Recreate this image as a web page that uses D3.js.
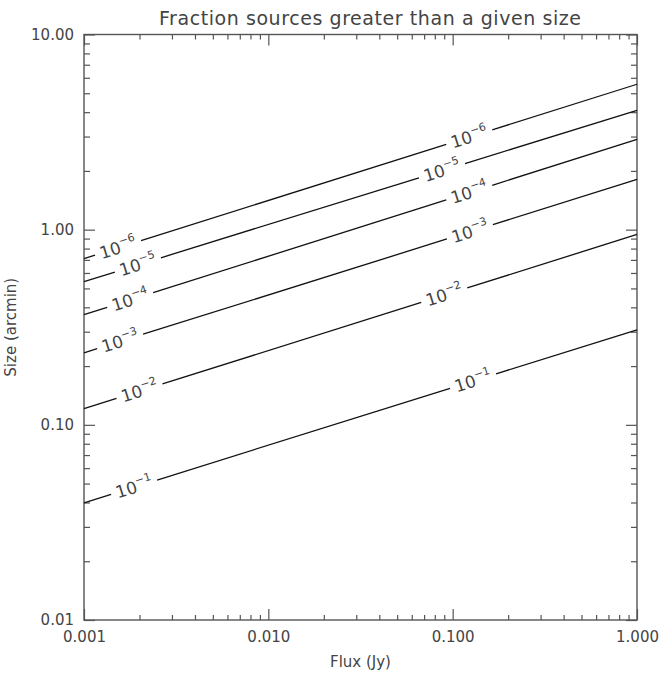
<!DOCTYPE html>
<html>
<head>
<meta charset="utf-8">
<script src="https://cdn.jsdelivr.net/npm/d3@7"></script>
<style>
	body { margin: 0; background: #fff; }
	text { font-family: "DejaVu Sans", sans-serif; fill: #444; }
</style>
</head>
<body>
<svg id="plot" width="661" height="681"></svg>
<script>

// contour levels (fraction of sources), exponent of 10
const LEVELS = ['-6', '-5', '-4', '-3', '-2', '-1'];
// each contour is a straight line in log-log, read at both ends of the flux range
const FLUX_ENDS = [0.001, 1.0];
const SIZE_AT_MIN_FLUX = [0.711, 0.542, 0.367, 0.234, 0.121, 0.0398];
const SIZE_AT_MAX_FLUX = [5.56, 4.09, 2.90, 1.81, 0.945, 0.307];
// where the in-line labels sit (flux)
const LABEL_FLUX_LEFT = [0.00153, 0.00196, 0.00178, 0.00157, 0.0020, 0.00187];
const LABEL_FLUX_RIGHT = [0.123, 0.0875, 0.123, 0.124, 0.090, 0.129];

const X_TICKS = [0.001, 0.01, 0.1, 1];
const X_TICK_LABELS = ['0.001', '0.010', '0.100', '1.000'];
const Y_TICKS = [0.01, 0.1, 1, 10];
const Y_TICK_LABELS = ['0.01', '0.10', '1.00', '10.00'];

const MARGIN = { top: 34.5, right: 24, bottom: 61, left: 84 };
const W = 661, H = 681;
const GAP = 23; // half width of the gap cut in a line for its label

function whenDocumentLoaded(action) {
	if (document.readyState === "loading") {
		document.addEventListener("DOMContentLoaded", action);
	} else {
		action();
	}
}

function drawChart() {
	const svg = d3.select('#plot');
	const x0 = MARGIN.left, x1 = W - MARGIN.right;
	const y0 = MARGIN.top, y1 = H - MARGIN.bottom;

	const x = d3.scaleLog().domain([0.001, 1]).range([x0, x1]);
	const y = d3.scaleLog().domain([0.01, 10]).range([y1, y0]);

	const minorX = x.ticks().filter(d => !X_TICKS.some(m => Math.abs(m - d) / m < 1e-6));
	const minorY = y.ticks().filter(d => !Y_TICKS.some(m => Math.abs(m - d) / m < 1e-6));

	const axisColor = '#555';

	// frame
	svg.append('rect')
		.attr('x', x0).attr('y', y0)
		.attr('width', x1 - x0).attr('height', y1 - y0)
		.attr('fill', 'none')
		.attr('stroke', axisColor)
		.attr('stroke-width', 1.4);

	function styleAxis(g) {
		g.select('.domain').remove();
		g.selectAll('.tick line').attr('stroke', axisColor).attr('stroke-width', 1.2);
		g.selectAll('.tick text').style('font-size', '15px').attr('fill', '#444');
	}

	// bottom
	svg.append('g').attr('transform', `translate(0,${y1})`)
		.call(d3.axisBottom(x).tickValues(X_TICKS).tickSize(-11).tickPadding(11)
			.tickFormat((d, i) => X_TICK_LABELS[i]))
		.call(styleAxis);
	svg.append('g').attr('transform', `translate(0,${y1})`)
		.call(d3.axisBottom(x).tickValues(minorX).tickSize(-5).tickFormat(''))
		.call(styleAxis);
	// top
	svg.append('g').attr('transform', `translate(0,${y0})`)
		.call(d3.axisTop(x).tickValues(X_TICKS).tickSize(-11).tickFormat(''))
		.call(styleAxis);
	svg.append('g').attr('transform', `translate(0,${y0})`)
		.call(d3.axisTop(x).tickValues(minorX).tickSize(-5).tickFormat(''))
		.call(styleAxis);
	// left
	svg.append('g').attr('transform', `translate(${x0},0)`)
		.call(d3.axisLeft(y).tickValues(Y_TICKS).tickSize(-11).tickPadding(10)
			.tickFormat((d, i) => Y_TICK_LABELS[i]))
		.call(styleAxis);
	svg.append('g').attr('transform', `translate(${x0},0)`)
		.call(d3.axisLeft(y).tickValues(minorY).tickSize(-6).tickFormat(''))
		.call(styleAxis);
	// right
	svg.append('g').attr('transform', `translate(${x1},0)`)
		.call(d3.axisRight(y).tickValues(Y_TICKS).tickSize(-11).tickFormat(''))
		.call(styleAxis);
	svg.append('g').attr('transform', `translate(${x1},0)`)
		.call(d3.axisRight(y).tickValues(minorY).tickSize(-6).tickFormat(''))
		.call(styleAxis);

	// contours
	const line = d3.line();
	const contours = svg.append('g');

	LEVELS.forEach((lev, i) => {
		const p0 = [x(FLUX_ENDS[0]), y(SIZE_AT_MIN_FLUX[i])];
		const p1 = [x(FLUX_ENDS[1]), y(SIZE_AT_MAX_FLUX[i])];
		const yAt = px => p0[1] + (p1[1] - p0[1]) * (px - p0[0]) / (p1[0] - p0[0]);
		const angle = Math.atan2(p1[1] - p0[1], p1[0] - p0[0]) * 180 / Math.PI;

		const cl = x(LABEL_FLUX_LEFT[i]);
		const cr = x(LABEL_FLUX_RIGHT[i]);
		const segs = [[p0[0], cl - GAP], [cl + GAP, cr - GAP], [cr + GAP, p1[0]]];

		segs.forEach(s => {
			contours.append('path')
				.attr('d', line([[s[0], yAt(s[0])], [s[1], yAt(s[1])]]))
				.attr('fill', 'none')
				.attr('stroke', '#111')
				.attr('stroke-width', 1.3);
		});

		[cl, cr].forEach(cx => {
			const t = contours.append('text')
				.attr('transform', `translate(${cx},${yAt(cx)}) rotate(${angle})`)
				.attr('text-anchor', 'middle')
				.attr('y', 6)
				.style('font-size', '17px');
			t.append('tspan').text('10');
			t.append('tspan').text('\u2212' + lev.slice(1))
				.attr('dy', -8)
				.style('font-size', '11px');
		});
	});

	// title and axis titles
	svg.append('text')
		.attr('x', 370).attr('y', 25)
		.attr('text-anchor', 'middle')
		.attr('textLength', 422)
		.style('font-size', '19px')
		.text('Fraction sources greater than a given size');

	svg.append('text')
		.attr('x', (x0 + x1) / 2).attr('y', 667)
		.attr('text-anchor', 'middle')
		.style('font-size', '15px')
		.text('Flux (Jy)');

	svg.append('text')
		.attr('transform', `translate(16,${(y0 + y1) / 2}) rotate(-90)`)
		.attr('text-anchor', 'middle')
		.style('font-size', '15px')
		.text('Size (arcmin)');
}

whenDocumentLoaded(drawChart);
</script>
</body>
</html>
